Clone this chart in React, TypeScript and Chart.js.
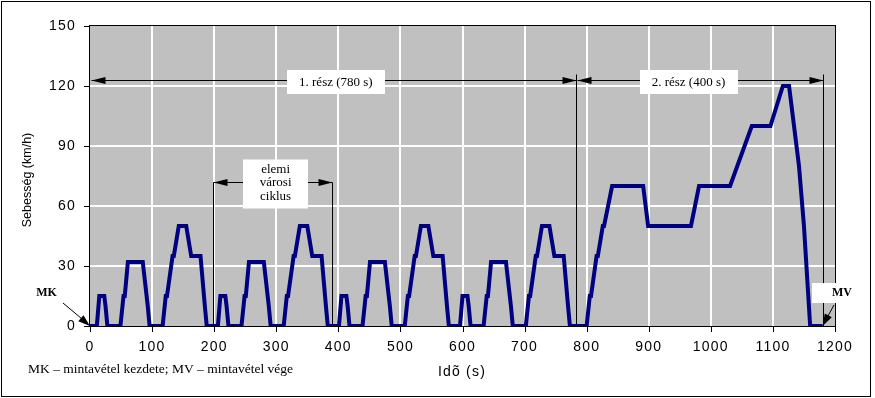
import React, { useEffect, useRef } from 'react';
import { Chart, registerables } from 'chart.js';

Chart.register(...registerables);

// ---- Data (NEDC driving cycle) ----
const timeS = [
  0, 11, 15, 23, 25, 28, 49, 54, 56, 61, 85, 93, 96, 117, 122, 124, 133, 135, 143, 155, 163, 176, 178, 185, 188,
  206, 210, 218, 220, 223, 244, 249, 251, 256, 280, 288, 291, 312, 317, 319, 328, 330, 338, 350, 358, 371, 373, 380, 383,
  401, 405, 413, 415, 418, 439, 444, 446, 451, 475, 483, 486, 507, 512, 514, 523, 525, 533, 545, 553, 566, 568, 575, 578,
  596, 600, 608, 610, 613, 634, 639, 641, 646, 670, 678, 681, 702, 707, 709, 718, 720, 728, 740, 748, 761, 763, 770, 773,
  800, 805, 807, 816, 818, 826, 828, 841, 891, 899, 968, 981, 1031, 1066, 1096, 1116, 1126, 1142, 1150, 1160, 1180,
];
const speedKmh = [
  0, 0, 15, 15, 10, 0, 0, 15, 15, 32, 32, 10, 0, 0, 15, 15, 35, 35, 50, 50, 35, 35, 35, 10, 0,
  0, 15, 15, 10, 0, 0, 15, 15, 32, 32, 10, 0, 0, 15, 15, 35, 35, 50, 50, 35, 35, 35, 10, 0,
  0, 15, 15, 10, 0, 0, 15, 15, 32, 32, 10, 0, 0, 15, 15, 35, 35, 50, 50, 35, 35, 35, 10, 0,
  0, 15, 15, 10, 0, 0, 15, 15, 32, 32, 10, 0, 0, 15, 15, 35, 35, 50, 50, 35, 35, 35, 10, 0,
  0, 15, 15, 35, 35, 50, 50, 70, 70, 50, 50, 70, 70, 100, 100, 120, 120, 80, 50, 0, 0,
];

const xTickValues = [0, 100, 200, 300, 400, 500, 600, 700, 800, 900, 1000, 1100, 1200];
const yTickValues = [0, 30, 60, 90, 120, 150];

const xTitle = 'Idõ (s)';
const yTitle = 'Sebesség (km/h)';
const footerText = 'MK – mintavétel kezdete; MV – mintavétel vége';

// annotations
const partLabels = ['1. rész (780 s)', '2. rész (400 s)'];
const partStartS = [0, 783];
const partEndS = [783, 1180];
const partLabelS = [396, 964];
const partArrowKmh = 123;
const partLineTopKmh = 126;

const cycleLabelLines = ['elemi', 'városi', 'ciklus'];
const cycleStartS = 198;
const cycleEndS = 390;
const cycleArrowKmh = 72;
const cycleLabelS = 299;

const startLabel = 'MK';
const endLabel = 'MV';
const endMarkS = 1180;

const SANS = '"Liberation Sans", Arial, sans-serif';
const SERIF = '"Liberation Serif", "Times New Roman", serif';

function head(ctx: CanvasRenderingContext2D, x: number, y: number, dx: number, dy: number, len = 14, half = 3.5) {
  const l = Math.hypot(dx, dy);
  const ux = dx / l, uy = dy / l;
  const bx = x - ux * len, by = y - uy * len;
  ctx.beginPath();
  ctx.moveTo(x, y);
  ctx.lineTo(bx - uy * half, by + ux * half);
  ctx.lineTo(bx + uy * half, by - ux * half);
  ctx.closePath();
  ctx.fill();
}

function seg(ctx: CanvasRenderingContext2D, x1: number, y1: number, x2: number, y2: number) {
  ctx.beginPath();
  ctx.moveTo(x1, y1);
  ctx.lineTo(x2, y2);
  ctx.stroke();
}

const decoPlugin = {
  id: 'deco',
  beforeDraw(chart: any) {
    const { ctx, chartArea: a } = chart;
    (ctx as any).letterSpacing = '1.2px';
    ctx.save();
    ctx.fillStyle = '#ffffff';
    ctx.fillRect(0, 0, chart.width, chart.height);
    ctx.fillStyle = '#c0c0c0';
    ctx.fillRect(a.left, a.top, a.right - a.left, a.bottom - a.top);
    ctx.restore();
  },
  beforeDatasetsDraw(chart: any) {
    const { ctx, chartArea: a } = chart;
    const xs = chart.scales.x, ys = chart.scales.y;
    const px = (v: number) => Math.round(xs.getPixelForValue(v)) + 0.5;
    const py = (v: number) => Math.round(ys.getPixelForValue(v)) + 0.5;
    ctx.save();
    (ctx as any).letterSpacing = '0px';
    ctx.strokeStyle = '#000';
    ctx.fillStyle = '#000';
    ctx.lineWidth = 1;
    // plot border
    ctx.strokeRect(a.left - 0.5, a.top - 0.5, a.right - a.left + 1, a.bottom - a.top + 1);

    // part arrows
    partEndS.forEach((e) => seg(ctx, px(e), py(partLineTopKmh), px(e), py(0)));
    const ay = py(partArrowKmh);
    partStartS.forEach((s, i) => {
      const x1 = px(s) + 1, x2 = px(partEndS[i]);
      seg(ctx, x1, ay, x2, ay);
      head(ctx, x1, ay, -1, 0);
      head(ctx, x2, ay, 1, 0);
    });
    ctx.font = '13px ' + SERIF;
    ctx.textAlign = 'center';
    ctx.textBaseline = 'middle';
    partLabels.forEach((t, i) => {
      const w = ctx.measureText(t).width + 24;
      const cx = xs.getPixelForValue(partLabelS[i]);
      ctx.fillStyle = '#fff';
      ctx.fillRect(Math.round(cx - w / 2), ay - 10.5, Math.round(w), 24);
      ctx.fillStyle = '#000';
      ctx.fillText(t, cx, ay + 2);
    });

    // elementary urban cycle
    const cy = py(cycleArrowKmh);
    const c1 = px(cycleStartS), c2 = px(cycleEndS);
    seg(ctx, c1, cy, c1, py(0));
    seg(ctx, c2, cy, c2, py(0));
    seg(ctx, c1, cy, c2, cy);
    head(ctx, c1, cy, -1, 0);
    head(ctx, c2, cy, 1, 0);
    const ccx = xs.getPixelForValue(cycleLabelS);
    ctx.fillStyle = '#fff';
    ctx.fillRect(Math.round(ccx - 32.5), cy - 23, 65, 49);
    ctx.fillStyle = '#000';
    cycleLabelLines.forEach((t, i) => ctx.fillText(t, ccx, cy - 13 + i * 13.5));
    ctx.restore();
  },
  afterDraw(chart: any) {
    const { ctx, chartArea: a } = chart;
    const xs = chart.scales.x, ys = chart.scales.y;
    ctx.save();
    (ctx as any).letterSpacing = '0px';
    ctx.strokeStyle = '#000';
    ctx.fillStyle = '#000';
    ctx.lineWidth = 1;
    // tick marks
    xs.ticks.forEach((t: any) => {
      const x = Math.round(xs.getPixelForValue(t.value)) + 0.5;
      seg(ctx, x, a.bottom, x, a.bottom + 6);
    });
    ys.ticks.forEach((t: any) => {
      const y = Math.round(ys.getPixelForValue(t.value)) + 0.5;
      seg(ctx, a.left - 6, y, a.left, y);
    });
    // outer frame
    ctx.strokeRect(1.5, 1.5, 869, 395);

    // MK
    ctx.font = 'bold 12px ' + SERIF;
    ctx.textAlign = 'center';
    ctx.textBaseline = 'middle';
    ctx.fillText(startLabel, 46.5, 293);
    const x0 = xs.getPixelForValue(0), y0 = ys.getPixelForValue(0);
    seg(ctx, 63, 303, x0 - 2, y0 - 2);
    head(ctx, x0, y0, x0 - 63, y0 - 303, 12, 4);

    // MV
    ctx.fillStyle = '#fff';
    ctx.fillRect(812, 283, 46, 20);
    ctx.fillStyle = '#000';
    ctx.fillText(endLabel, 842, 293);
    const xe = xs.getPixelForValue(endMarkS);
    seg(ctx, 834, 305, xe + 1, y0 - 2);
    head(ctx, xe, y0, xe - 834, y0 - 305, 12, 4);

    // footer
    ctx.font = '13.5px ' + SERIF;
    ctx.textAlign = 'left';
    ctx.fillText(footerText, 28, 369);

    // axis titles
    ctx.font = '14px ' + SANS;
    (ctx as any).letterSpacing = '1.2px';
    ctx.textAlign = 'center';
    ctx.fillText(xTitle, 462, 372);
    (ctx as any).letterSpacing = '0px';
    ctx.font = '12.5px ' + SANS;
    ctx.translate(28, 180);
    ctx.rotate(-Math.PI / 2);
    ctx.fillText(yTitle, 0, 0);
    ctx.restore();
  },
};

const edgeColor = (max: number) => (c: any) =>
  c.tick && (c.tick.value === 0 || c.tick.value === max) ? 'rgba(0,0,0,0)' : '#ffffff';

export default function App() {
  const ref = useRef<HTMLCanvasElement>(null);
  useEffect(() => {
    document.body.style.margin = '0';
    const chart = new Chart(ref.current as HTMLCanvasElement, {
      type: 'line',
      data: {
        datasets: [
          {
            data: timeS.map((t, i) => ({ x: t, y: speedKmh[i] })),
            borderColor: '#000080',
            borderWidth: 4,
            pointRadius: 0,
            fill: false,
            tension: 0,
          },
        ],
      },
      options: {
        animation: false,
        responsive: false,
        devicePixelRatio: 1,
        layout: { padding: { left: 0, right: 40, top: 26, bottom: 0 } },
        plugins: { legend: { display: false }, tooltip: { enabled: false } },
        scales: {
          x: {
            type: 'linear',
            min: 0,
            max: 1200,
            afterFit: (s: any) => { s.height = 72; },
            afterBuildTicks: (s: any) => { s.ticks = xTickValues.map((v) => ({ value: v })); },
            ticks: {
              font: { family: SANS, size: 14 },
              color: '#000',
              padding: 7,
              maxRotation: 0,
              autoSkip: false,
              callback: (v: any) => String(v),
            },
            grid: { color: edgeColor(1200), lineWidth: 2, tickLength: 6, tickColor: 'rgba(0,0,0,0)' },
            border: { display: false },
          },
          y: {
            min: 0,
            max: 150,
            afterFit: (s: any) => { s.width = 90; },
            afterBuildTicks: (s: any) => { s.ticks = yTickValues.map((v) => ({ value: v })); },
            ticks: { font: { family: SANS, size: 14 }, color: '#000', padding: 8, callback: (v: any) => String(v) },
            grid: { color: edgeColor(150), lineWidth: 2, tickLength: 6, tickColor: 'rgba(0,0,0,0)' },
            border: { display: false },
          },
        },
      },
      plugins: [decoPlugin],
    } as any);
    return () => chart.destroy();
  }, []);
  return <canvas ref={ref} width={875} height={398} style={{ display: 'block', width: 875, height: 398 }} />;
}
